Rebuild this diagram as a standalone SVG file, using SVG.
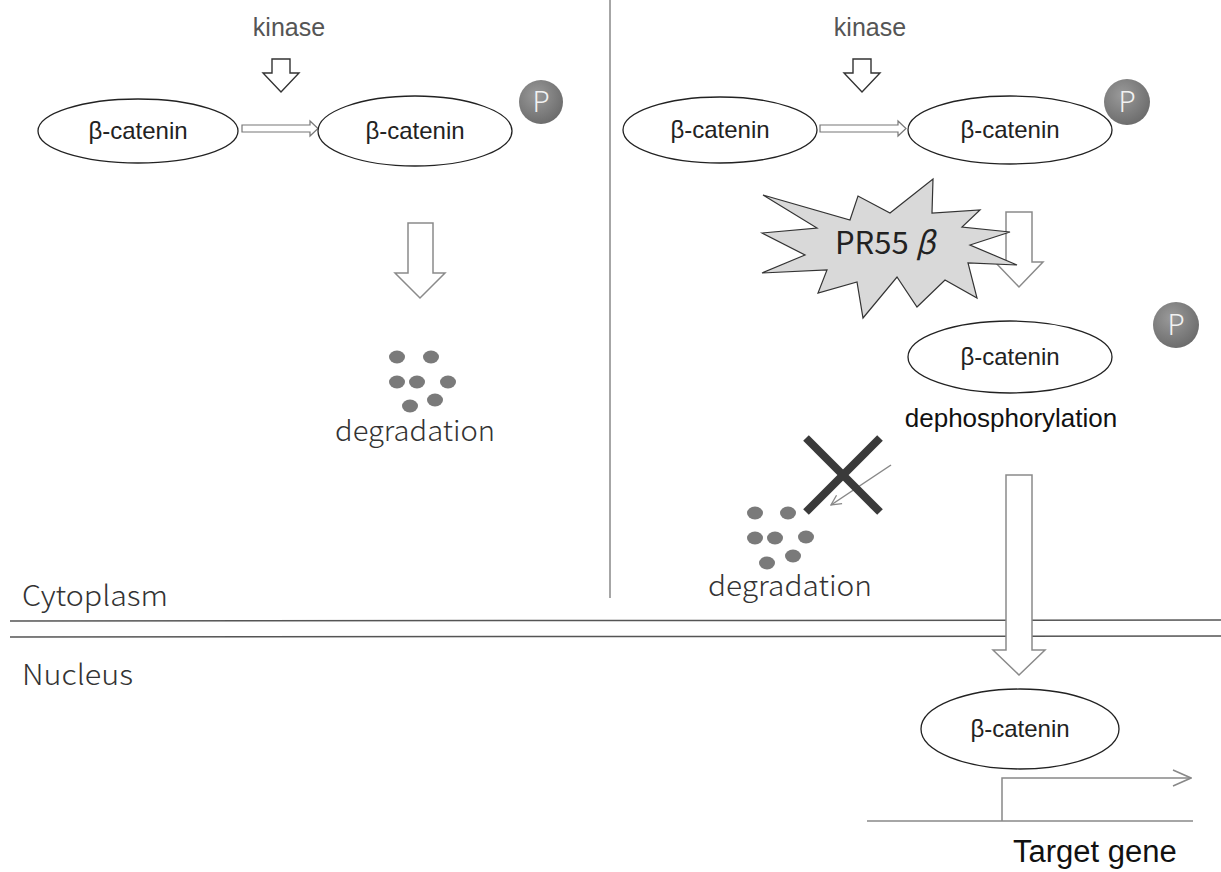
<svg xmlns="http://www.w3.org/2000/svg" width="1221" height="872" viewBox="0 0 1221 872">
<defs>
<radialGradient id="pg" cx="40%" cy="35%" r="70%">
<stop offset="0" stop-color="#9a9a9a"/>
<stop offset="1" stop-color="#6a6a6a"/>
</radialGradient>
<marker id="chev" viewBox="0 0 12 12" refX="11" refY="6" markerWidth="12" markerHeight="12" markerUnits="userSpaceOnUse" orient="auto">
<path d="M1,1 L11,6 L1,11" fill="none" stroke="#888" stroke-width="1.3"/>
</marker>
<marker id="chev2" viewBox="0 0 20 20" refX="19" refY="10" markerWidth="20" markerHeight="20" markerUnits="userSpaceOnUse" orient="auto">
<path d="M1,2 L19,10 L1,18" fill="none" stroke="#888" stroke-width="1.5"/>
</marker>
</defs>
<style>
.ell{fill:#fff;stroke:#222;stroke-width:1.3}
.lbl{font-family:"Liberation Sans",Arial,sans-serif;font-size:24px;fill:#222;text-anchor:middle}
.dep{font-family:"Liberation Sans",Arial,sans-serif;font-size:26px;fill:#111;text-anchor:middle}
.kin{font-family:"Liberation Sans",Arial,sans-serif;font-size:25px;fill:#555;text-anchor:middle}
.jp{font-family:"Noto Sans CJK JP","Noto Sans",sans-serif;fill:#333;font-weight:300}
.pr{font-family:"Noto Sans CJK JP","Noto Sans",sans-serif;fill:#222;font-size:31px;text-anchor:middle}
.big{fill:#fff;stroke:#8a8a8a;stroke-width:1.5}
.kar{fill:#fff;stroke:#333;stroke-width:1.4}
.thin{fill:#fff;stroke:#777;stroke-width:1.2}
.dot{fill:#7a7a7a}
.pc{fill:url(#pg)}
.pt{font-family:"Noto Sans CJK JP","Noto Sans",sans-serif;font-size:28px;fill:#f2f2f2;text-anchor:middle;font-weight:300}
.mem{stroke:#555;stroke-width:1.5;fill:none}
</style>
<rect width="1221" height="872" fill="#fff"/>

<!-- compartment structure -->
<g id="structure">
<line x1="610" y1="0" x2="610" y2="598" stroke="#888" stroke-width="1.5"/>
<line class="mem" x1="10" y1="621" x2="1221" y2="620"/>
<line class="mem" x1="10" y1="637" x2="1221" y2="636"/>
<text class="jp" x="22" y="606" font-size="28" textLength="146" lengthAdjust="spacingAndGlyphs">Cytoplasm</text>
<text class="jp" x="22" y="685" font-size="28" textLength="111" lengthAdjust="spacingAndGlyphs">Nucleus</text>
</g>

<!-- connectors -->
<g id="connectors">
<!-- left panel -->
<polygon class="kar" points="272,59 290,59 290,73 299,73 281,92 263,73 272,73"/>
<polygon class="thin" points="242,125 310,125 310,121 318,128.5 310,136 310,132 242,132"/>
<polygon class="big" points="408,223 433,223 433,273 445,273 420,298 395,273 408,273"/>
<!-- right panel -->
<polygon class="kar" points="853,59 871,59 871,73 880,73 862,92 844,73 853,73"/>
<polygon class="thin" points="820,125 898,125 898,121 906,128.5 898,136 898,132 820,132"/>
<polygon class="big" points="1006,212 1032,212 1032,262 1043,262 1019,287 995,262 1006,262"/>
<polygon class="big" points="1006,475 1032,475 1032,650 1045,650 1019,675 993,650 1006,650"/>
<line x1="891" y1="465" x2="831" y2="505" stroke="#888" stroke-width="1.5" marker-end="url(#chev)"/>
<!-- gene -->
<line x1="867" y1="821" x2="1193" y2="821" stroke="#888" stroke-width="1.5"/>
<polyline points="1002,821 1002,778 1191,778" fill="none" stroke="#888" stroke-width="1.5" marker-end="url(#chev2)"/>
</g>

<!-- left panel nodes -->
<g id="kinase-left"><text class="kin" x="289" y="36">kinase</text></g>
<g id="bcat-left1">
<ellipse class="ell" cx="138" cy="131" rx="100" ry="32"/>
<text class="lbl" x="138" y="139">β-catenin</text>
</g>
<g id="bcat-left2">
<ellipse class="ell" cx="415" cy="131" rx="97" ry="35"/>
<text class="lbl" x="415" y="139">β-catenin</text>
</g>
<g id="p-left">
<circle class="pc" cx="541" cy="102" r="22"/>
<text class="pt" x="541" y="112">P</text>
</g>
<g id="degradation-left">
<ellipse class="dot" cx="397" cy="357" rx="8" ry="6.5"/>
<ellipse class="dot" cx="431" cy="357" rx="8" ry="6.5"/>
<ellipse class="dot" cx="397" cy="382" rx="8" ry="6.5"/>
<ellipse class="dot" cx="417" cy="382" rx="8" ry="6.5"/>
<ellipse class="dot" cx="448" cy="382" rx="8" ry="6.5"/>
<ellipse class="dot" cx="410" cy="406" rx="8" ry="6.5"/>
<ellipse class="dot" cx="435" cy="400" rx="8" ry="6.5"/>
<text class="jp" x="415" y="441" font-size="28" text-anchor="middle" textLength="160" lengthAdjust="spacingAndGlyphs">degradation</text>
</g>

<!-- right panel nodes -->
<g id="kinase-right"><text class="kin" x="870" y="36">kinase</text></g>
<g id="bcat-right1">
<ellipse class="ell" cx="720" cy="130" rx="97" ry="33"/>
<text class="lbl" x="720" y="138">β-catenin</text>
</g>
<g id="bcat-right2">
<ellipse class="ell" cx="1010" cy="130" rx="102" ry="34"/>
<text class="lbl" x="1010" y="138">β-catenin</text>
</g>
<g id="p-right1">
<circle class="pc" cx="1127" cy="102" r="23"/>
<text class="pt" x="1127" y="112">P</text>
</g>
<g id="pr55b">
<polygon fill="#d9d9d9" stroke="#333" stroke-width="1.2" points="763,195 850,220 858,196 890,213 933,179 932,213 980,210 962,227 1010,232 970,245 1017,265 968,263 977,298 945,280 917,307 897,277 863,318 857,282 818,293 827,270 762,273 805,255 762,233 817,228"/>
<text class="pr" x="885" y="254">PR55 <tspan font-style="italic">β</tspan></text>
</g>
<g id="bcat-right3">
<ellipse class="ell" cx="1010" cy="357" rx="102" ry="36"/>
<text class="lbl" x="1010" y="365">β-catenin</text>
</g>
<g id="p-right2">
<circle class="pc" cx="1176" cy="325" r="23"/>
<text class="pt" x="1176" y="335">P</text>
</g>
<g id="dephos"><text class="dep" x="1011" y="427">dephosphorylation</text></g>
<g id="block">
<line x1="806" y1="438" x2="880" y2="512" stroke="#3a3a3a" stroke-width="8"/>
<line x1="880" y1="438" x2="806" y2="512" stroke="#3a3a3a" stroke-width="8"/>
</g>
<g id="degradation-right">
<ellipse class="dot" cx="755" cy="513" rx="8" ry="6.5"/>
<ellipse class="dot" cx="788" cy="513" rx="8" ry="6.5"/>
<ellipse class="dot" cx="755" cy="538" rx="8" ry="6.5"/>
<ellipse class="dot" cx="775" cy="538" rx="8" ry="6.5"/>
<ellipse class="dot" cx="806" cy="537" rx="8" ry="6.5"/>
<ellipse class="dot" cx="767" cy="563" rx="8" ry="6.5"/>
<ellipse class="dot" cx="793" cy="556" rx="8" ry="6.5"/>
<text class="jp" x="790" y="596" font-size="28" text-anchor="middle" textLength="164" lengthAdjust="spacingAndGlyphs">degradation</text>
</g>

<!-- nucleus nodes -->
<g id="bcat-nucleus">
<ellipse class="ell" cx="1020" cy="729" rx="99" ry="40"/>
<text class="lbl" x="1020" y="737">β-catenin</text>
</g>
<g id="target-gene"><text x="1013" y="862" font-family="Liberation Sans, Arial, sans-serif" font-size="31" fill="#111">Target gene</text></g>
</svg>
